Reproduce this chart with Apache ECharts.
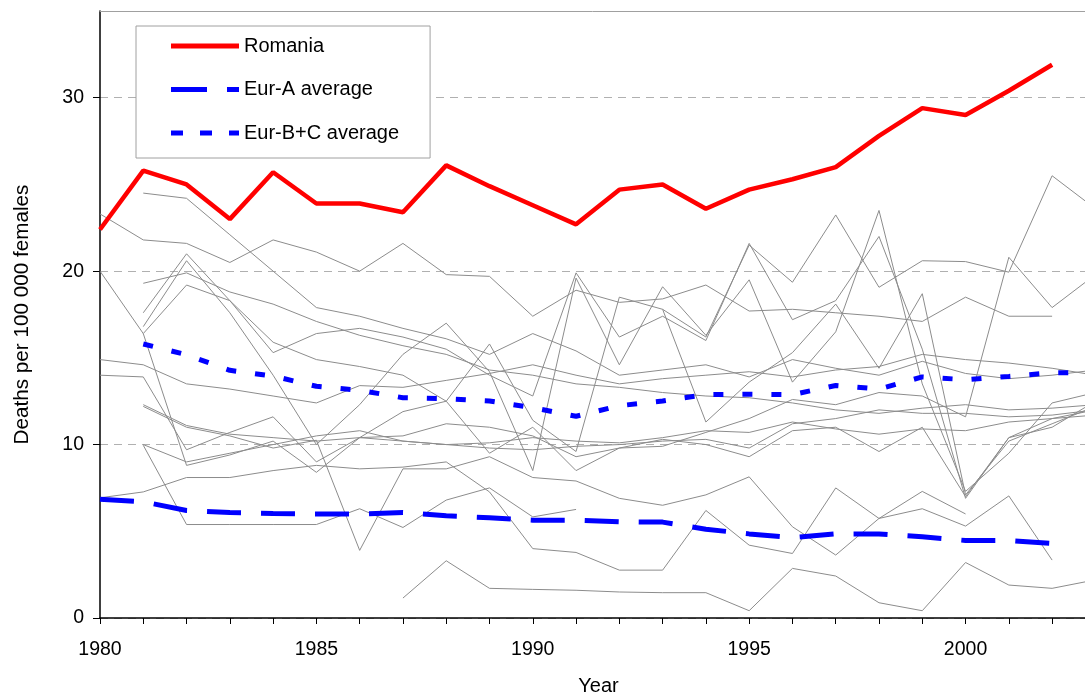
<!DOCTYPE html>
<html><head><meta charset="utf-8">
<script src="https://cdn.jsdelivr.net/npm/echarts@6/dist/echarts.min.js"></script>
<style>html,body{margin:0;padding:0;background:#fff;overflow:hidden}#c{width:1085px;height:695px}</style>
</head><body><div id="c"></div>
<script>
const years = [];
for (let y = 1980; y <= 2003; y++) years.push(y);
const xTickLabels = ['1980','1985','1990','1995','2000'];
const yTickValues = [0,10,20,30];

const romania = [22.4,25.8,25.0,23.0,25.7,23.9,23.9,23.4,26.1,24.9,23.8,22.7,24.7,25.0,23.6,24.7,25.3,26.0,27.8,29.4,29.0,30.4,31.9,null];
const eurA    = [6.85,6.7,6.2,6.08,6.03,5.99,5.99,6.08,5.89,5.78,5.64,5.64,5.55,5.53,5.12,4.85,4.64,4.85,4.85,4.68,4.47,4.47,4.3,null];
const eurBC   = [null,15.8,15.18,14.28,13.95,13.36,13.13,12.7,12.65,12.51,12.13,11.63,12.24,12.51,12.88,12.9,12.88,13.41,13.2,13.9,13.74,13.93,14.14,14.16];

const c01 = [23.3,21.8,21.6,20.5,21.8,21.1,20.0,21.6,19.8,19.7,17.4,18.9,18.2,18.4,19.2,17.7,17.8,17.6,17.4,17.1,18.5,17.4,17.4,null];
const c02 = [null,24.5,24.2,22.1,20.0,17.9,17.4,16.7,16.1,15.2,16.4,15.4,14.0,14.3,14.6,13.9,14.9,14.4,14.0,14.8,14.1,13.8,14.0,14.3];
const c03 = [null,null,null,null,null,null,null,1.15,3.3,1.71,1.65,1.6,1.5,1.46,1.46,0.42,2.86,2.42,0.88,0.42,3.2,1.9,1.71,2.2];
const c04 = [6.93,7.27,8.1,8.1,8.5,8.8,8.6,8.7,9.0,7.27,4.0,3.78,2.76,2.76,6.2,4.2,3.72,7.5,5.74,6.3,5.3,7.04,3.34,null];
const c05 = [null,9.96,5.39,5.39,5.39,5.39,6.3,5.22,6.8,7.5,5.83,6.26,null,null,null,null,null,null,null,null,null,null,null,null];
const c06 = [null,null,null,null,null,null,null,null,null,null,null,null,null,17.8,16.2,21.5,19.36,23.24,19.07,20.6,20.55,19.94,25.5,23.6];
const c07 = [20.0,16.4,8.8,9.4,10.2,8.4,10.4,11.9,12.5,9.5,11.0,8.5,9.8,10.3,10.0,9.3,10.8,11.0,9.6,11.0,7.0,10.4,11.5,12.0];
const c08 = [14.9,14.6,13.5,13.2,12.8,12.4,13.4,13.3,13.7,14.1,14.6,14.0,13.5,13.8,14.0,14.2,13.9,14.3,14.5,15.2,14.9,14.7,14.4,14.0];
const c09 = [14.0,13.9,9.7,10.7,11.6,9.0,10.4,10.2,10.0,10.1,10.4,10.2,10.1,10.4,10.8,10.7,11.3,10.9,10.6,10.9,10.8,11.3,11.5,11.7];
const c10 = [null,19.3,19.9,18.8,18.1,17.1,16.3,15.7,15.2,14.3,14.0,13.5,13.3,13.0,12.8,12.7,12.4,12.0,11.8,12.1,12.3,12.0,12.1,12.3];
const c11 = [null,17.6,21.0,18.3,15.3,16.4,16.7,16.2,15.5,14.0,12.8,19.9,16.2,17.4,16.0,21.6,17.2,18.3,22.0,15.5,6.9,10.4,11.0,12.5];
const c12 = [null,16.8,20.6,17.6,14.0,10.0,12.3,15.2,17.0,14.2,8.5,19.6,14.6,19.1,16.3,19.5,13.6,16.5,23.5,13.5,7.3,9.5,12.4,13.0];
const c13 = [null,16.4,19.2,18.3,15.9,14.9,14.5,14.0,12.5,15.8,11.4,9.6,18.5,17.8,11.3,13.6,15.3,18.1,14.4,18.7,7.1,10.2,11.2,12.2];
const c14 = [null,12.3,11.1,10.6,10.4,10.2,10.4,10.5,11.2,11.0,10.5,9.3,9.8,9.9,10.7,11.5,12.6,12.3,13.0,12.8,11.6,20.8,17.9,19.8];
const c15 = [null,10.0,9.0,9.5,10.0,10.5,10.8,10.2,10.0,9.8,9.7,9.9,10.0,10.2,10.3,9.8,11.2,11.5,12.0,11.8,11.8,11.6,11.7,12.0];
const c16 = [null,12.2,11.0,10.5,9.8,10.25,3.9,8.6,8.6,9.3,8.1,7.9,6.9,6.5,7.1,8.14,5.26,3.63,5.74,7.3,6.0,null,null,null];
const countries = [c01,c02,c03,c04,c05,c06,c07,c08,c09,c10,c11,c12,c13,c14,c15,c16];
const seriesNames = ['Romania','Eur-A average','Eur-B+C average'];

const toPts = arr => years.map((y,i)=>[y, arr[i]]);
const series = [];
countries.forEach((c,i)=>{
  series.push({type:'line', name:'c'+i, data:toPts(c), symbol:'none', silent:true, z:1,
    lineStyle:{color:'#8c8c8c', width:1}, connectNulls:false, animation:false});
});
series.push({type:'line', name:seriesNames[1], data:toPts(eurA), symbol:'none', z:3, animation:false,
  lineStyle:{color:'#0000ff', width:5, type:[34,20], cap:'butt'}, itemStyle:{color:'#0000ff'}});
series.push({type:'line', name:seriesNames[2], data:toPts(eurBC), symbol:'none', z:3, animation:false,
  lineStyle:{color:'#0000ff', width:5, type:[10,19], cap:'butt'}, itemStyle:{color:'#0000ff'}});
series.push({type:'line', name:seriesNames[0], data:toPts(romania), symbol:'none', z:4, animation:false,
  lineStyle:{color:'#ff0000', width:4.5}, itemStyle:{color:'#ff0000'}});

const FONT = 'Liberation Sans, Arial, sans-serif';
const chart = echarts.init(document.getElementById('c'), null, {renderer:'canvas'});
chart.setOption({
  backgroundColor:'#fff',
  animation:false,
  grid:{left:100, right:0, top:11, bottom:77, containLabel:false, outerBoundsMode:'none'},
  legend:{
    data:[
      {name:seriesNames[0], icon:'path://M0,0H68V5H0Z'},
      {name:seriesNames[1], icon:'path://M0,0H36V5H0Z M56,0H68V5H56Z'},
      {name:seriesNames[2], icon:'path://M0,0H12V5H0Z M29,0H41V5H29Z M58,0H68V5H58Z'}
    ],
    orient:'vertical', left:136, top:26,
    padding:[10,31,15,35], itemGap:23.5, itemWidth:68, itemHeight:5,
    borderColor:'#a0a0a0', borderWidth:1, backgroundColor:'#fff',
    textStyle:{fontFamily:FONT, fontSize:20, color:'#000'},
    selectedMode:false
  },
  xAxis:[{
    type:'value', min:1980, max:2002.76, interval:1,
    name:'Year', nameLocation:'middle', nameGap:58,
    nameTextStyle:{fontFamily:FONT, fontSize:20, color:'#000', padding:[0,0,0,12]},
    axisLine:{lineStyle:{color:'#000', width:1.5}},
    axisTick:{show:true, inside:false, length:6, lineStyle:{color:'#000', width:1}},
    axisLabel:{margin:22, fontFamily:FONT, fontSize:19.5, color:'#000',
      formatter:v=> xTickLabels.indexOf(String(v))>=0 ? String(v) : '', showMaxLabel:false},
    splitLine:{show:false}
  },{
    type:'value', position:'top', min:1980, max:2002.76,
    axisLine:{show:true, lineStyle:{color:'#a0a0a0', width:1}},
    axisTick:{show:false}, axisLabel:{show:false}, splitLine:{show:false}
  }],
  yAxis:{
    type:'value', min:0, max:35, interval:10,
    name:'Deaths per 100 000 females', nameLocation:'middle', nameGap:67, nameRotate:90,
    nameTextStyle:{fontFamily:FONT, fontSize:20.7, color:'#000'},
    axisLine:{show:true, lineStyle:{color:'#000', width:1.5}},
    axisTick:{show:true, inside:false, length:7, lineStyle:{color:'#000'}, customValues:yTickValues},
    axisLabel:{margin:16, fontFamily:FONT, fontSize:19.5, color:'#000', customValues:yTickValues},
    splitLine:{show:true, lineStyle:{color:'#b0b0b0', type:[8,6], width:1}}
  },
  series:series
});
</script></body></html>
